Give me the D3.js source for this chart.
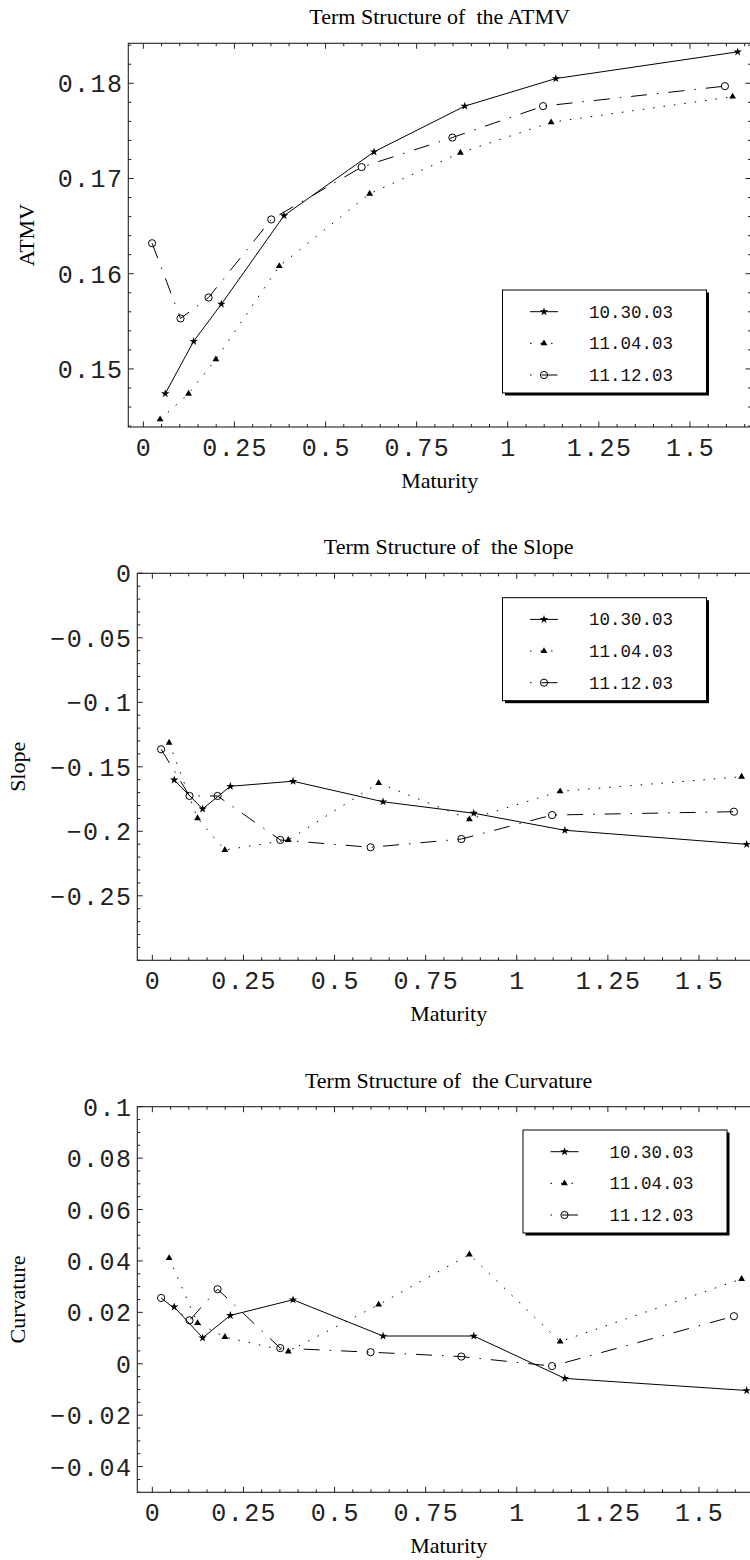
<!DOCTYPE html>
<html><head><meta charset="utf-8">
<script src="https://cdn.jsdelivr.net/npm/d3@7"></script>
<style>body{margin:0;background:#fff}svg{display:block}</style>
</head><body>
<svg id="c" width="750" height="1560"></svg>
<script>
// ---------------- data ----------------
const seriesNames = ["10.30.03", "11.04.03", "11.12.03"];
const maturity1030 = [0.060, 0.138, 0.214, 0.386, 0.633, 0.882, 1.132, 1.631];
const maturity1104 = [0.046, 0.124, 0.199, 0.373, 0.621, 0.870, 1.119, 1.617];
const maturity1112 = [0.024, 0.102, 0.179, 0.351, 0.599, 0.848, 1.097, 1.596];

const atmv1030 = [0.1474, 0.1529, 0.1568, 0.1661, 0.1728, 0.1776, 0.1805, 0.1833];
const atmv1104 = [0.1447, 0.1474, 0.1510, 0.1608, 0.1684, 0.1727, 0.1759, 0.1786];
const atmv1112 = [0.1632, 0.1553, 0.1575, 0.1657, 0.1712, 0.1743, 0.1776, 0.1797];

const slope1030 = [-0.1602, -0.1827, -0.1651, -0.1612, -0.1771, -0.1860, -0.1992, -0.2101];
const slope1104 = [-0.1313, -0.1899, -0.2145, -0.2067, -0.1626, -0.1907, -0.1690, -0.1577];
const slope1112 = [-0.1364, -0.1726, -0.1726, -0.2067, -0.2124, -0.2060, -0.1874, -0.1848];

const curv1030 = [0.0221, 0.0101, 0.0188, 0.0249, 0.0108, 0.0108, -0.0057, -0.0104];
const curv1104 = [0.0411, 0.0158, 0.0104, 0.0048, 0.0230, 0.0425, 0.0086, 0.0330];
const curv1112 = [0.0256, 0.0169, 0.0290, 0.0061, 0.0045, 0.0028, -0.0009, 0.0185];

const xTicks = [0, 0.25, 0.5, 0.75, 1, 1.25, 1.5];
const xTickLabels = ["0", "0.25", "0.5", "0.75", "1", "1.25", "1.5"];
const atmvTicks = [0.15, 0.16, 0.17, 0.18];
const atmvTickLabels = ["0.15", "0.16", "0.17", "0.18"];
const slopeTicks = [0, -0.05, -0.1, -0.15, -0.2, -0.25];
const slopeTickLabels = ["0", "\u22120.05", "\u22120.1", "\u22120.15", "\u22120.2", "\u22120.25"];
const curvTicks = [0.1, 0.08, 0.06, 0.04, 0.02, 0, -0.02, -0.04];
const curvTickLabels = ["0.1", "0.08", "0.06", "0.04", "0.02", "0", "\u22120.02", "\u22120.04"];

// ---------------- layout ----------------
const maturities = [maturity1030, maturity1104, maturity1112];
const xDomain = [-0.0413, 1.6675];
const styles = [
  {dash: null, marker: "star", legendOffset: 0},
  {dash: "1.5,9", marker: "triangle", legendOffset: 0},
  {dash: "16,10,1.5,10", marker: "circle", legendOffset: 26}
];

const panels = [
  {title: "Term Structure of  the ATMV", ylabel: "ATMV", ylabelX: 26.5,
   left: 128.3, right: 751, top: 43.3, bottom: 427, yDomain: [0.1439, 0.1842],
   yTicks: atmvTicks, yTickLabels: atmvTickLabels, yMinor: 0.002,
   values: [atmv1030, atmv1104, atmv1112], legend: [502.5, 290]},
  {title: "Term Structure of  the Slope", ylabel: "Slope", ylabelX: 17.5,
   left: 137.3, right: 760, top: 573.3, bottom: 960.3, yDomain: [-0.3, 0],
   yTicks: slopeTicks, yTickLabels: slopeTickLabels, yMinor: 0.01,
   values: [slope1030, slope1104, slope1112], legend: [502.5, 597.7]},
  {title: "Term Structure of  the Curvature", ylabel: "Curvature", ylabelX: 17.5,
   left: 137.3, right: 760, top: 1106.7, bottom: 1492.3, yDomain: [-0.05, 0.1],
   yTicks: curvTicks, yTickLabels: curvTickLabels, yMinor: 0.005,
   values: [curv1030, curv1104, curv1112], legend: [523, 1130]}
];

const svg = d3.select("#c");
const serif = "'Liberation Serif', 'Times New Roman', serif";
const mono = "'Liberation Mono', 'DejaVu Sans Mono', monospace";

function drawMarker(g, type, x, y) {
  if (type === "star") {
    g.append("path").attr("d", d3.symbol(d3.symbolStar, 22)())
      .attr("transform", `translate(${x},${y})`).attr("fill", "#000");
  } else if (type === "triangle") {
    g.append("path").attr("d", d3.symbol(d3.symbolTriangle, 20)())
      .attr("transform", `translate(${x},${y})`).attr("fill", "#000");
  } else {
    g.append("circle").attr("cx", x).attr("cy", y).attr("r", 3.6)
      .attr("fill", "none").attr("stroke", "#000").attr("stroke-width", 1);
  }
}

panels.forEach(p => {
  const x = d3.scaleLinear().domain(xDomain).range([p.left, p.right]);
  const y = d3.scaleLinear().domain(p.yDomain).range([p.bottom, p.top]);
  const g = svg.append("g");

  // frame
  g.append("rect").attr("x", p.left).attr("y", p.top)
    .attr("width", p.right - p.left).attr("height", p.bottom - p.top)
    .attr("fill", "none").attr("stroke", "#222").attr("stroke-width", 1.1);

  // x ticks (bottom & top, inward)
  const xMinor = d3.range(0, xDomain[1], 0.05).filter(v => Math.abs(v / 0.25 - Math.round(v / 0.25)) > 1e-6);
  const tk = g.append("g").attr("stroke", "#222").attr("stroke-width", 1);
  xTicks.forEach(v => {
    tk.append("line").attr("x1", x(v)).attr("x2", x(v)).attr("y1", p.bottom).attr("y2", p.bottom - 5.5);
    tk.append("line").attr("x1", x(v)).attr("x2", x(v)).attr("y1", p.top).attr("y2", p.top + 5.5);
  });
  xMinor.forEach(v => {
    tk.append("line").attr("x1", x(v)).attr("x2", x(v)).attr("y1", p.bottom).attr("y2", p.bottom - 3);
    tk.append("line").attr("x1", x(v)).attr("x2", x(v)).attr("y1", p.top).attr("y2", p.top + 3);
  });
  // y ticks
  const yMinorVals = d3.range(Math.ceil(p.yDomain[0] / p.yMinor - 1e-6), Math.floor(p.yDomain[1] / p.yMinor + 1e-6) + 1)
    .map(k => k * p.yMinor)
    .filter(v => !p.yTicks.some(t => Math.abs(t - v) < 1e-9));
  p.yTicks.forEach(v => {
    tk.append("line").attr("x1", p.left).attr("x2", p.left + 5.5).attr("y1", y(v)).attr("y2", y(v));
    tk.append("line").attr("x1", p.right).attr("x2", p.right - 5.5).attr("y1", y(v)).attr("y2", y(v));
  });
  yMinorVals.forEach(v => {
    tk.append("line").attr("x1", p.left).attr("x2", p.left + 3).attr("y1", y(v)).attr("y2", y(v));
    tk.append("line").attr("x1", p.right).attr("x2", p.right - 3).attr("y1", y(v)).attr("y2", y(v));
  });

  // tick labels
  xTicks.forEach((v, i) => {
    g.append("text").attr("x", x(v) + 0.7).attr("y", p.bottom + 29)
      .attr("text-anchor", "middle").attr("font-family", mono).attr("font-size", 25)
      .attr("letter-spacing", 1.4).attr("fill", "#222").text(xTickLabels[i]);
  });
  p.yTicks.forEach((v, i) => {
    g.append("text").attr("x", p.left - 5).attr("y", y(v) + 9)
      .attr("text-anchor", "end").attr("font-family", mono).attr("font-size", 25)
      .attr("letter-spacing", 1.4).attr("fill", "#222").text(p.yTickLabels[i]);
  });

  // titles
  g.append("text").attr("x", (p.left + p.right) / 2).attr("y", p.top - 19)
    .attr("text-anchor", "middle").attr("font-family", serif).attr("font-size", 22)
    .attr("xml:space", "preserve").style("white-space", "pre").text(p.title);
  g.append("text").attr("x", (p.left + p.right) / 2).attr("y", p.bottom + 61)
    .attr("text-anchor", "middle").attr("font-family", serif).attr("font-size", 22).text("Maturity");
  g.append("text").attr("transform", `translate(${p.ylabelX + 7},${(p.top + p.bottom) / 2}) rotate(-90)`)
    .attr("text-anchor", "middle").attr("font-family", serif).attr("font-size", 22).text(p.ylabel);

  // series
  const clipId = "clip" + Math.round(p.top);
  svg.append("clipPath").attr("id", clipId).append("rect")
    .attr("x", p.left).attr("y", p.top).attr("width", p.right - p.left).attr("height", p.bottom - p.top);
  const sg = g.append("g").attr("clip-path", `url(#${clipId})`);
  p.values.forEach((vals, si) => {
    const pts = vals.map((v, i) => [maturities[si][i], v]);
    const line = d3.line().x(d => x(d[0])).y(d => y(d[1]));
    sg.append("path").attr("d", line(pts)).attr("fill", "none").attr("stroke", "#000")
      .attr("stroke-width", 1).attr("stroke-dasharray", styles[si].dash);
    pts.forEach(d => drawMarker(sg, styles[si].marker, x(d[0]), y(d[1])));
  });

  // legend
  const [lx, ly] = p.legend;
  const lw = 204, lh = 103;
  const lg = g.append("g");
  lg.append("rect").attr("x", lx + 2.5).attr("y", ly + 2.5).attr("width", lw).attr("height", lh).attr("fill", "#000");
  lg.append("rect").attr("x", lx).attr("y", ly).attr("width", lw).attr("height", lh)
    .attr("fill", "#fff").attr("stroke", "#000").attr("stroke-width", 1);
  seriesNames.forEach((name, si) => {
    const ry = ly + 21.7 + si * 31.65;
    lg.append("line").attr("x1", lx + 27.5).attr("x2", lx + 55.5).attr("y1", ry).attr("y2", ry)
      .attr("stroke", "#000").attr("stroke-width", 1).attr("stroke-dasharray", styles[si].dash)
      .attr("stroke-dashoffset", styles[si].legendOffset);
    drawMarker(lg, styles[si].marker, lx + 41.5, ry);
    lg.append("text").attr("x", lx + 86.5).attr("y", ry + 6)
      .attr("font-family", mono).attr("font-size", 17.5).attr("fill", "#111").text(name);
  });
});
</script>
</body></html>
